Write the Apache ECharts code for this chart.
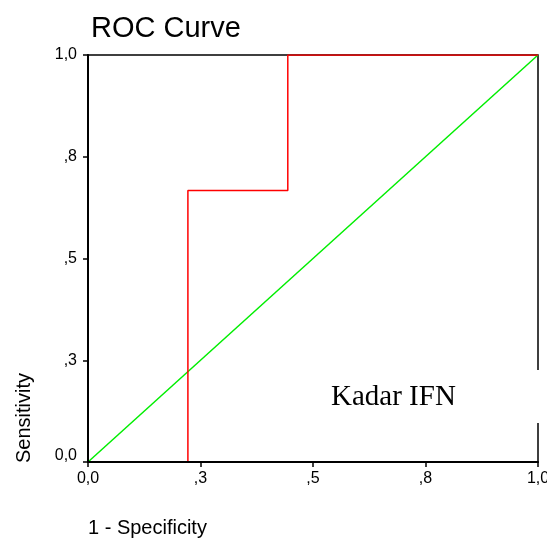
<!DOCTYPE html>
<html>
<head>
<meta charset="utf-8">
<script src="https://cdn.jsdelivr.net/npm/echarts@6/dist/echarts.min.js"></script>
<style>
  html, body { margin: 0; padding: 0; background: #fff; }
  #chart { width: 547px; height: 544px; }
</style>
</head>
<body>
<div id="chart"></div>
<script>
// ROC curve for Kadar IFN against the chance diagonal
const rocFpr = [0, 0.222, 0.222, 0.444, 0.444, 1];
const rocTpr = [0, 0, 0.667, 0.667, 1, 1];
const diagX = [0, 1];
const diagY = [0, 1];
const tickValues = [0, 0.25, 0.5, 0.75, 1];
const tickLabels = ['0,0', ',3', ',5', ',8', '1,0'];
const seriesName = 'Kadar IFN';

const toPairs = (xs, ys) => xs.map((x, i) => [x, ys[i]]);
const labelFor = v => {
  const i = tickValues.findIndex(t => Math.abs(t - v) < 1e-6);
  return i >= 0 ? tickLabels[i] : '';
};

const sans = 'Arial, "Liberation Sans", sans-serif';
const labelStyle = { color: '#000', fontFamily: sans, fontSize: 16 };

const axisCommon = {
  type: 'value',
  min: 0,
  max: 1,
  interval: 0.25,
  splitLine: { show: false },
  axisLine: { show: true, lineStyle: { color: '#000', width: 2 } },
  axisTick: { show: true, length: 5, lineStyle: { color: '#000', width: 1.5 } },
  z: 5
};

const chart = echarts.init(document.getElementById('chart'), null, { renderer: 'canvas' });
chart.setOption({
  animation: false,
  backgroundColor: '#fff',
  title: {
    text: 'ROC Curve',
    left: 86,
    top: 9,
    textStyle: { fontFamily: sans, fontSize: 29, fontWeight: 'normal', color: '#000' }
  },
  grid: {
    left: 88, right: 9, top: 55, bottom: 82,
    outerBoundsMode: 'none',
    show: true, borderColor: '#000', borderWidth: 1.5, backgroundColor: 'transparent'
  },
  xAxis: Object.assign({}, axisCommon, {
    axisLabel: Object.assign({}, labelStyle, { margin: 9, formatter: labelFor })
  }),
  yAxis: Object.assign({}, axisCommon, {
    axisLabel: Object.assign({}, labelStyle, {
      margin: 11,
      // the lowest label sits a little above its tick, clear of the x axis labels
      formatter: v => (v === 0 ? '{low|' + labelFor(v) + '}' : labelFor(v)),
      rich: { low: { fontFamily: sans, fontSize: 16, color: '#000', padding: [0, 0, 12, 0] } }
    })
  }),
  legend: {
    data: [{ name: seriesName, icon: 'none' }],
    left: 300,
    top: 370,
    itemWidth: 0,
    itemHeight: 0,
    padding: [13, 90, 11, 26],
    backgroundColor: '#fff',
    selectedMode: false,
    textStyle: { fontFamily: '"Liberation Serif", "Times New Roman", serif', fontSize: 29, color: '#000' },
    z: 10
  },
  graphic: [
    {
      type: 'text',
      left: 88,
      top: 518,
      style: { text: '1 - Specificity', font: '20px ' + sans, fill: '#000' }
    },
    {
      type: 'text',
      x: 14,
      y: 463,
      rotation: Math.PI / 2,
      style: { text: 'Sensitivity', font: '20px ' + sans, fill: '#000', textAlign: 'left', textVerticalAlign: 'top' }
    }
  ],
  series: [
    {
      name: seriesName,
      type: 'line',
      data: toPairs(rocFpr, rocTpr),
      symbol: 'none',
      lineStyle: { color: '#ff0000', width: 1.5 },
      z: 3
    },
    {
      name: 'Reference',
      type: 'line',
      data: toPairs(diagX, diagY),
      symbol: 'none',
      lineStyle: { color: '#00ee00', width: 1.5 },
      z: 2
    }
  ]
});
</script>
</body>
</html>
